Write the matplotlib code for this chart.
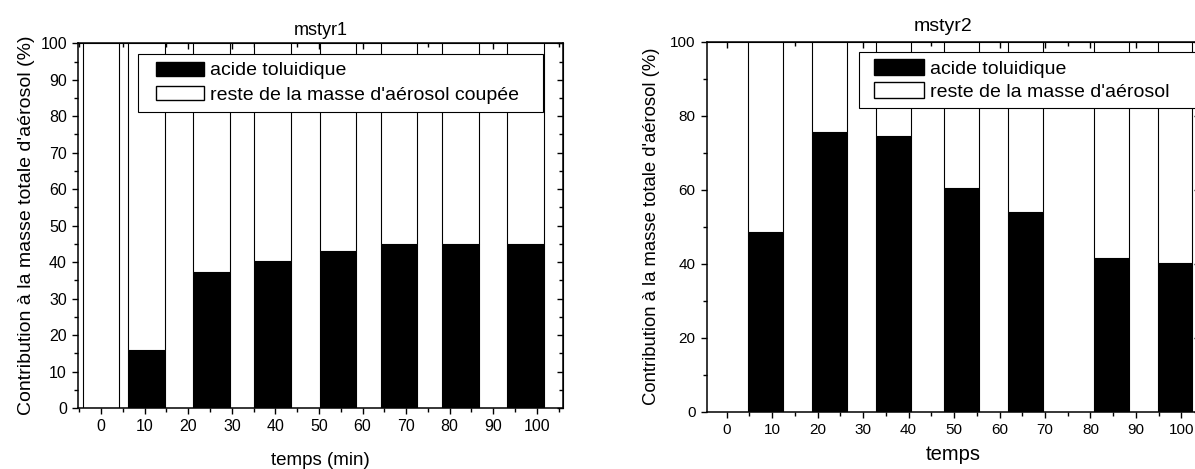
import matplotlib
matplotlib.use('Agg')
import matplotlib.pyplot as plt
from matplotlib.patches import Patch, Rectangle
from matplotlib.legend_handler import HandlerPatch
from matplotlib.ticker import MultipleLocator

# Data
temps1 = [0, 10.4, 25.4, 39.4, 54.4, 68.4, 82.5, 97.4]
acide1 = [0, 15.9, 37.2, 40.2, 43.1, 45.1, 45.1, 45.1]
temps2 = [8.5, 22.6, 36.7, 51.6, 65.7, 84.6, 98.6]
acide2 = [48.6, 75.5, 74.5, 60.4, 53.9, 41.6, 40.1]
ticks_x = [0, 10, 20, 30, 40, 50, 60, 70, 80, 90, 100]

reste1 = [100 - v for v in acide1]
reste2 = [100 - v for v in acide2]

font = ['Liberation Sans', 'DejaVu Sans']

fig = plt.figure(figsize=(11.95, 4.69), dpi=100)
ax1 = fig.add_axes([0.0653, 0.130, 0.4058, 0.7777])
ax2 = fig.add_axes([0.5914, 0.1222, 0.4128, 0.7889])


def style_axis(ax, size, ymajor, yminor):
    for s in ax.spines.values():
        s.set_linewidth(1.1)
    ax.set_xticks(ticks_x)
    ax.xaxis.set_minor_locator(MultipleLocator(5))
    ax.yaxis.set_major_locator(MultipleLocator(ymajor))
    ax.yaxis.set_minor_locator(MultipleLocator(yminor))
    ax.tick_params(which='major', direction='out', length=4.5, width=1.0, labelsize=size)
    ax.tick_params(which='minor', direction='out', length=2.6, width=1.0)
    for lab in ax.get_xticklabels() + ax.get_yticklabels():
        lab.set_family(font)
    # top and right ticks pointing inward
    top = ax.secondary_xaxis('top')
    top.set_xticks(ticks_x)
    top.xaxis.set_minor_locator(MultipleLocator(5))
    top.tick_params(which='major', direction='in', length=4.5, width=1.0, labeltop=False)
    top.tick_params(which='minor', direction='in', length=2.6, width=1.0)
    right = ax.secondary_yaxis('right')
    right.yaxis.set_major_locator(MultipleLocator(ymajor))
    right.yaxis.set_minor_locator(MultipleLocator(yminor))
    right.tick_params(which='major', direction='in', length=4.5, width=1.0, labelright=False)
    right.tick_params(which='minor', direction='in', length=2.6, width=1.0)


def shifted_box(offset):
    # legend swatch drawn with some empty space on its left
    def make(legend, orig_handle, xdescent, ydescent, width, height, fontsize):
        off = offset * fontsize
        return Rectangle((-xdescent + off, -ydescent), width - off, height)
    return HandlerPatch(patch_func=make)


# Left chart
ax1.bar(temps1, acide1, width=8.4, color='black', edgecolor='black', linewidth=0.8)
ax1.bar(temps1, reste1, width=8.4, bottom=acide1, color='white', edgecolor='black', linewidth=0.8)
ax1.set_xlim(-5.3, 106)
ax1.set_ylim(0, 100)
style_axis(ax1, 11.5, 10, 5)
ax1.set_title('mstyr1', family=font, fontsize=13, pad=6)
ax1.set_xlabel('temps (min)', family=font, fontsize=13.5, labelpad=13)
ax1.set_ylabel("Contribution à la masse totale d'aérosol (%)", family=font, fontsize=14, labelpad=4)
h1 = [Patch(facecolor='black', edgecolor='black'), Patch(facecolor='white', edgecolor='black')]
leg1 = ax1.legend(h1, ['acide toluidique', "reste de la masse d'aérosol coupée"],
                  loc='upper left', bbox_to_anchor=(0.124, 0.812, 0.835, 0.159), mode='expand',
                  borderaxespad=0, fancybox=False, framealpha=1, edgecolor='black',
                  prop={'family': font, 'size': 14},
                  handlelength=3.0, handleheight=0.72, handletextpad=0.3, labelspacing=0.35,
                  borderpad=0.4, handler_map={Patch: shifted_box(0.5)})
leg1.get_frame().set_linewidth(0.8)

# Right chart
ax2.bar(temps2, acide2, width=7.6, color='black', edgecolor='black', linewidth=0.8)
ax2.bar(temps2, reste2, width=7.6, bottom=acide2, color='white', edgecolor='black', linewidth=0.8)
ax2.set_xlim(-4.4, 104.1)
ax2.set_ylim(0, 100)
style_axis(ax2, 11, 20, 10)
ax2.set_title('mstyr2', family=font, fontsize=14, pad=8, x=0.48)
ax2.set_xlabel('temps', family=font, fontsize=14.5, labelpad=6)
ax2.set_ylabel("Contribution à la masse totale d'aérosol (%)", family=font, fontsize=13.3, labelpad=7)
h2 = [Patch(facecolor='black', edgecolor='black'), Patch(facecolor='white', edgecolor='black')]
leg2 = ax2.legend(h2, ['acide toluidique', "reste de la masse d'aérosol"],
                  loc='upper left', bbox_to_anchor=(0.309, 0.8, 0.70, 0.173), mode='expand',
                  borderaxespad=0, fancybox=False, framealpha=1, edgecolor='black',
                  prop={'family': font, 'size': 14},
                  handlelength=2.95, handleheight=0.88, handletextpad=0.3, labelspacing=0.2,
                  borderpad=0.4, handler_map={Patch: shifted_box(0.36)})
leg2.get_frame().set_linewidth(0.8)

fig.savefig('out.png', dpi=100)
